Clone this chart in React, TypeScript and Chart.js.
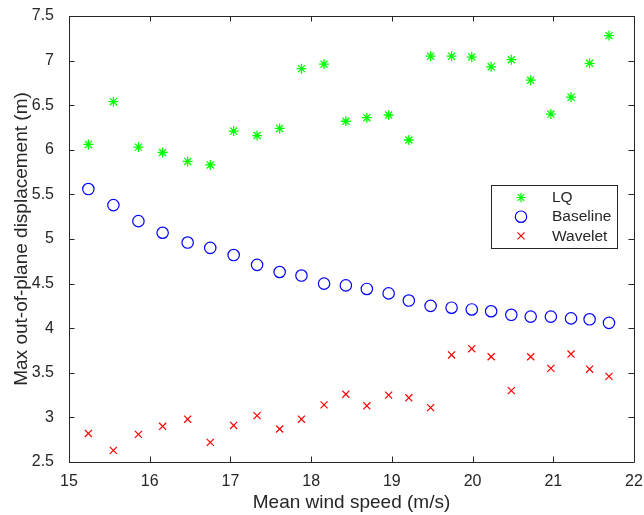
import React, { useEffect, useRef } from "react";
import { Chart, registerables } from "chart.js";
import { drawPoint } from "chart.js/helpers";

Chart.register(...registerables);

// ---- data ----
const windSpeed = [
  15.24, 15.55, 15.86, 16.16, 16.47, 16.75, 17.04, 17.33, 17.61, 17.88, 18.16, 18.43, 18.69,
  18.96, 19.21, 19.48, 19.74, 19.99, 20.23, 20.48, 20.72, 20.97, 21.22, 21.45, 21.69,
];
const lqValues = [
  6.06, 6.54, 6.03, 5.97, 5.87, 5.83, 6.21, 6.16, 6.24, 6.91, 6.96, 6.32, 6.36, 6.39, 6.11,
  7.05, 7.05, 7.04, 6.93, 7.01, 6.78, 6.4, 6.59, 6.97, 7.28,
];
const baselineValues = [
  5.56, 5.38, 5.2, 5.07, 4.96, 4.9, 4.82, 4.71, 4.63, 4.59, 4.5, 4.48, 4.44, 4.39, 4.31, 4.25,
  4.23, 4.21, 4.19, 4.15, 4.13, 4.13, 4.11, 4.1, 4.06,
];
const waveletValues = [
  2.82, 2.63, 2.81, 2.9, 2.98, 2.72, 2.91, 3.02, 2.87, 2.98, 3.14, 3.26, 3.13, 3.25, 3.22, 3.11,
  3.7, 3.77, 3.68, 3.3, 3.68, 3.55, 3.71, 3.54, 3.46,
];
const seriesLabels = ["LQ", "Baseline", "Wavelet"];
const xTickValues = [15, 16, 17, 18, 19, 20, 21, 22];
const yTickValues = [2.5, 3, 3.5, 4, 4.5, 5, 5.5, 6, 6.5, 7, 7.5];
const xTitle = "Mean wind speed (m/s)";
const yTitle = "Max out-of-plane displacement (m)";

const FONT = "'Liberation Sans', Arial, Helvetica, sans-serif";
const AXIS_COLOR = "#262626";

const toPoints = (ys: number[]) => windSpeed.map((x, i) => ({ x, y: ys[i] }));

const framePlugin = {
  id: "matlabFrame",
  afterDatasetsDraw(chart: any) {
    const { ctx, chartArea, scales } = chart;
    const { left, right, top, bottom } = chartArea;
    const tl = 5.5;
    ctx.save();
    ctx.strokeStyle = AXIS_COLOR;
    ctx.lineWidth = 1;
    ctx.beginPath();
    ctx.rect(Math.round(left) + 0.5, Math.round(top) + 0.5, Math.round(right - left), Math.round(bottom - top));
    ctx.stroke();
    ctx.beginPath();
    xTickValues.forEach((v) => {
      const px = Math.round(scales.x.getPixelForValue(v)) + 0.5;
      ctx.moveTo(px, bottom);
      ctx.lineTo(px, bottom - tl);
      ctx.moveTo(px, top);
      ctx.lineTo(px, top + tl);
    });
    yTickValues.forEach((v) => {
      const py = Math.round(scales.y.getPixelForValue(v)) + 0.5;
      ctx.moveTo(left, py);
      ctx.lineTo(left + tl, py);
      ctx.moveTo(right, py);
      ctx.lineTo(right - tl, py);
    });
    ctx.stroke();
    ctx.restore();
  },
};

const legendPlugin = {
  id: "boxLegend",
  afterDraw(chart: any) {
    const { ctx, chartArea } = chart;
    const bx = chartArea.right - 143;
    const by = chartArea.top + 169;
    const bw = 126;
    const bh = 63;
    ctx.save();
    ctx.fillStyle = "#ffffff";
    ctx.fillRect(bx, by, bw, bh);
    ctx.strokeStyle = AXIS_COLOR;
    ctx.lineWidth = 1;
    ctx.strokeRect(Math.round(bx) + 0.5, Math.round(by) + 0.5, bw, bh);
    ctx.font = `15.5px ${FONT}`;
    ctx.textBaseline = "middle";
    ctx.textAlign = "left";
    const legendRadius = [4.7, 5.7, 5];
    chart.data.datasets.forEach((ds: any, i: number) => {
      const cy = by + 12.5 + i * 19.2;
      ctx.strokeStyle = ds.borderColor;
      ctx.fillStyle = "rgba(0,0,0,0)";
      ctx.lineWidth = 1.2;
      drawPoint(ctx, { pointStyle: ds.pointStyle, rotation: 0, radius: legendRadius[i], borderWidth: 1.2 }, bx + 30, cy);
      ctx.fillStyle = AXIS_COLOR;
      ctx.fillText(ds.label, bx + 61, cy + 0.5);
    });
    ctx.restore();
  },
};

export default function App() {
  const canvasRef = useRef<HTMLCanvasElement | null>(null);

  useEffect(() => {
    const canvas = canvasRef.current;
    if (!canvas) return;
    const chart = new Chart(canvas, {
      type: "scatter",
      data: {
        datasets: [
          {
            label: seriesLabels[0],
            data: toPoints(lqValues),
            pointStyle: "star",
            radius: 5,
            borderColor: "#00ff00",
            backgroundColor: "#00ff00",
            borderWidth: 1.3,
          },
          {
            label: seriesLabels[1],
            data: toPoints(baselineValues),
            pointStyle: "circle",
            radius: 5.7,
            borderColor: "#0000ff",
            backgroundColor: "rgba(0,0,0,0)",
            borderWidth: 1.2,
          },
          {
            label: seriesLabels[2],
            data: toPoints(waveletValues),
            pointStyle: "crossRot",
            radius: 5,
            borderColor: "#ff0000",
            backgroundColor: "#ff0000",
            borderWidth: 1.2,
          },
        ],
      },
      options: {
        animation: false,
        responsive: false,
        devicePixelRatio: 1,
        layout: { padding: { top: 16, right: 10, left: 0, bottom: 0 } },
        plugins: { legend: { display: false }, tooltip: { enabled: false } },
        scales: {
          x: {
            type: "linear",
            min: 15,
            max: 22,
            afterFit: (s: any) => {
              s.height = 53;
              s.paddingLeft = 0;
              s.paddingRight = 0;
            },
            afterBuildTicks: (s: any) => {
              s.ticks = xTickValues.map((v) => ({ value: v }));
            },
            grid: { display: false },
            border: { display: false },
            ticks: {
              color: AXIS_COLOR,
              font: { family: FONT, size: 16 },
              padding: 2,
              maxRotation: 0,
              callback: (v: any) => String(v),
            },
            title: {
              display: true,
              text: xTitle,
              color: AXIS_COLOR,
              font: { family: FONT, size: 19 },
              padding: { top: 0, bottom: 1 },
            },
          },
          y: {
            type: "linear",
            min: 2.5,
            max: 7.5,
            afterFit: (s: any) => {
              s.width = 69;
              s.paddingTop = 0;
              s.paddingBottom = 0;
            },
            afterBuildTicks: (s: any) => {
              s.ticks = yTickValues.map((v) => ({ value: v }));
            },
            grid: { display: false },
            border: { display: false },
            ticks: {
              color: AXIS_COLOR,
              font: { family: FONT, size: 16 },
              padding: 7,
              callback: (v: any) => String(v),
            },
            title: {
              display: true,
              text: yTitle,
              color: AXIS_COLOR,
              font: { family: FONT, size: 19 },
              padding: { top: 10, bottom: 0 },
            },
          },
        },
      },
      plugins: [framePlugin, legendPlugin],
    });
    return () => chart.destroy();
  }, []);

  return (
    <div style={{ position: "absolute", left: 0, top: 0, width: 644, height: 515, background: "#ffffff" }}>
      <canvas ref={canvasRef} width={644} height={515} style={{ display: "block" }} />
    </div>
  );
}
